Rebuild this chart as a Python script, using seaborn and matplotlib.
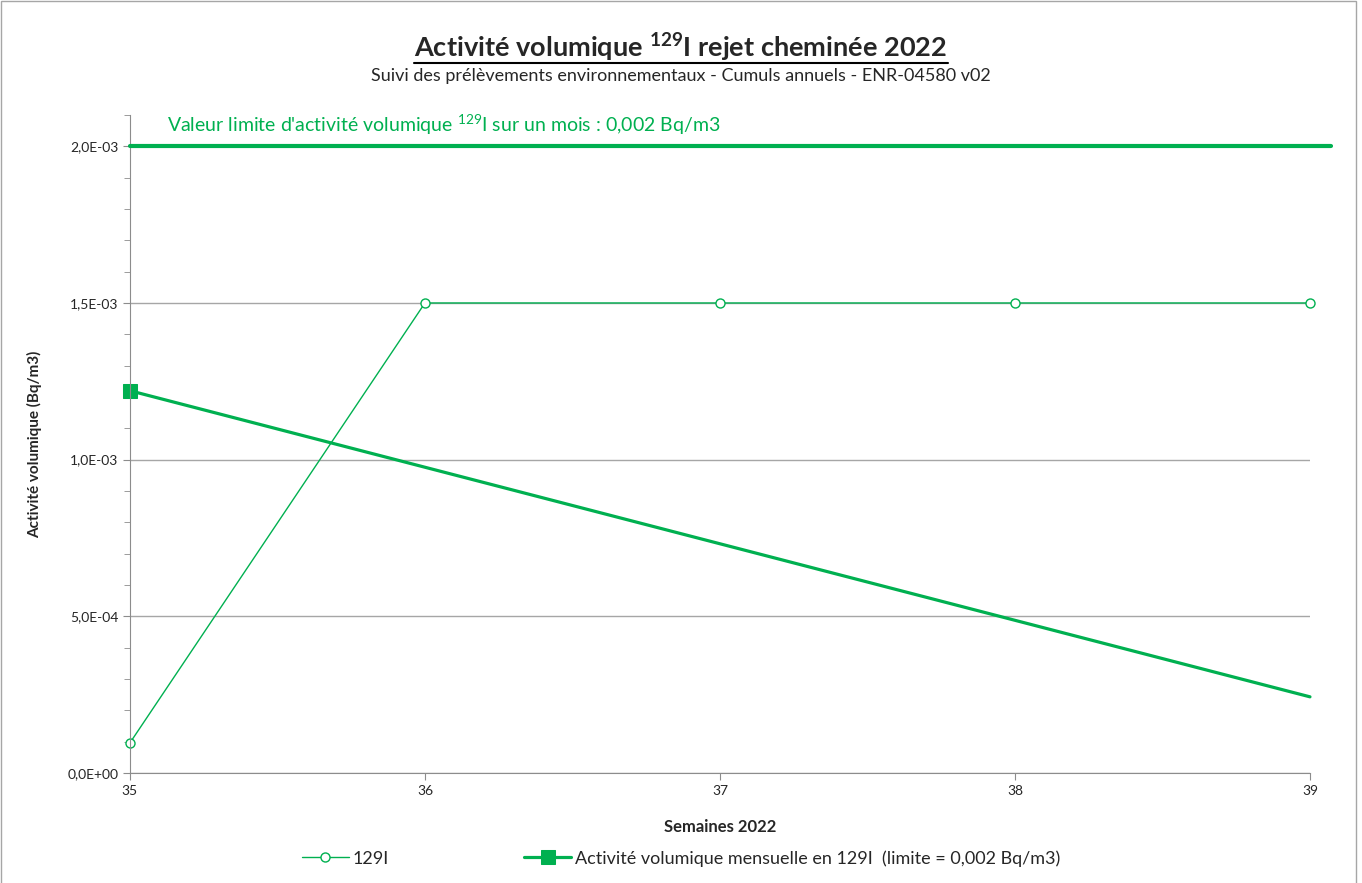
import numpy as np
import pandas as pd
import matplotlib
matplotlib.use("Agg")
import matplotlib.pyplot as plt
import seaborn as sns
from matplotlib.ticker import FuncFormatter, MultipleLocator
from matplotlib.lines import Line2D
from matplotlib.patches import Rectangle

# --- Data ---
weeks = [35, 36, 37, 38, 39]
i129 = [9.6e-5, 1.5e-3, 1.5e-3, 1.5e-3, 1.5e-3]
monthly_x = [35, 39]
monthly_val = [1.22e-3, 2.43e-4]
limit_x = [35, 39.07]
limit_val = [0.002, 0.002]

GREEN = "#00B050"
GREY = "#8C8C8C"

sns.set_style("white")
plt.rcParams["font.family"] = ["Lato", "DejaVu Sans"]
plt.rcParams["mathtext.fontset"] = "custom"
plt.rcParams["mathtext.rm"] = "Lato"
plt.rcParams["mathtext.bf"] = "Lato:bold"

fig = plt.figure(figsize=(13.62, 8.83), dpi=100)
ax = fig.add_axes([0.0954, 0.1246, 0.8664, 0.7452])

df = pd.DataFrame({"week": weeks, "val": i129})
sns.lineplot(data=df, x="week", y="val", ax=ax, color=GREEN, lw=1.0,
             marker="o", markersize=6.5, markerfacecolor="white",
             markeredgecolor=GREEN, markeredgewidth=1.0, label="129I", clip_on=False)
sns.lineplot(x=monthly_x, y=monthly_val, ax=ax, color=GREEN, lw=2.3,
             marker="s", markersize=10, markevery=[0], markeredgecolor=GREEN,
             label="Activité volumique mensuelle en 129I  (limite = 0,002 Bq/m3)",
             clip_on=False)
ax.plot(limit_x, limit_val, color=GREEN, lw=3.0, clip_on=False, zorder=4)

ax.set_xlim(35, 39)
ax.set_ylim(0, 2.1e-3)
ax.set_xticks(weeks)
ax.yaxis.set_major_locator(MultipleLocator(5e-4))
ax.yaxis.set_minor_locator(MultipleLocator(1e-4))
ax.yaxis.set_major_formatter(FuncFormatter(lambda v, p: f"{v:.1E}".replace(".", ",")))
ax.tick_params(axis="both", which="both", direction="out", color=GREY,
               labelsize=10, left=True, bottom=True)
ax.tick_params(axis="both", which="major", length=5)
ax.tick_params(axis="y", which="minor", length=4)
ax.yaxis.grid(True, which="major", color="#A6A6A6", lw=1)
for s in ["top", "right"]:
    ax.spines[s].set_visible(False)
for s in ["left", "bottom"]:
    ax.spines[s].set_color(GREY)

ax.set_xlabel("Semaines 2022", fontsize=12, fontweight="bold", labelpad=16)
ax.set_ylabel("Activité volumique (Bq/m3)", fontsize=11, fontweight="bold", labelpad=18)

ax.text(35.125, 0.00207, r"Valeur limite d'activité volumique $^{129}$I sur un mois : 0,002 Bq/m3",
        color=GREEN, fontsize=14, va="center", ha="left")

title = fig.text(0.5, 0.946, r"Activité volumique $^{\mathbf{129}}$I rejet cheminée 2022",
                 fontsize=19.5, fontweight="bold", ha="center", va="center")
fig.text(0.5, 0.914, "Suivi des prélèvements environnementaux - Cumuls annuels - ENR-04580 v02",
         fontsize=13, ha="center", va="center")

handles, labels = ax.get_legend_handles_labels()
ax.legend_.remove()
fig.legend(handles, labels, loc="center", bbox_to_anchor=(0.5, 0.028), ncol=2,
           frameon=False, fontsize=13, handlelength=2.6, columnspacing=7.5,
           handletextpad=0.2)

# underline title
fig.canvas.draw()
bb = title.get_window_extent().transformed(fig.transFigure.inverted())
fig.add_artist(Line2D([bb.x0, bb.x1], [bb.y0 + 0.002, bb.y0 + 0.002],
                      transform=fig.transFigure, color="black", lw=1.5))

fig.add_artist(Rectangle((0.0007, -0.01), 0.995, 1.0089, transform=fig.transFigure,
                         fill=False, edgecolor="#A6A6A6", lw=1))

fig.savefig("out.png", dpi=100)
